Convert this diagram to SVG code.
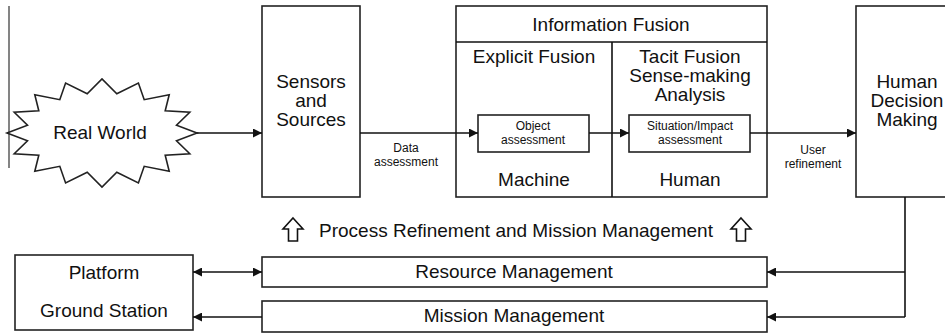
<svg xmlns="http://www.w3.org/2000/svg" width="945" height="333" viewBox="0 0 945 333">
<style>
text{font-family:"Liberation Sans",Arial,sans-serif;fill:#111;text-anchor:middle}
.b{font-size:19px}
.s{font-size:12px}
.box{fill:#fff;stroke:#222;stroke-width:1.6}
.ln{fill:none;stroke:#111;stroke-width:1.6}
</style>
<defs>
<marker id="ah" viewBox="0 0 10 10" refX="10" refY="5" markerWidth="10" markerHeight="9" markerUnits="userSpaceOnUse" orient="auto-start-reverse"><path d="M0,0 L10,5 L0,10 z" fill="#111"/></marker>
</defs>
<line x1="9" y1="6" x2="9" y2="168" stroke="#777" stroke-width="1.8"/>
<g id="real-world">
<polygon class="box" points="197,133 176.5,125.2 189.8,112.3 165.2,110.8 169.2,94.8 144.2,99.7 138.4,83.1 116.8,93.8 102,79 87.2,93.8 65.6,83.1 59.8,99.7 34.8,94.8 38.8,110.8 14.2,112.3 27.5,125.2 7,133 27.5,140.8 14.2,153.7 38.8,155.2 34.8,171.2 59.8,166.3 65.6,182.9 87.2,172.2 102,187 116.8,172.2 138.4,182.9 144.2,166.3 169.2,171.2 165.2,155.2 189.8,153.7 176.5,140.8"/>
<text class="b" x="100" y="139">Real World</text>
</g>
<g id="sensors">
<rect class="box" x="262" y="6" width="98" height="191"/>
<text class="b" x="311" y="88">Sensors</text>
<text class="b" x="311" y="107">and</text>
<text class="b" x="311" y="126">Sources</text>
</g>
<g id="information-fusion">
<rect class="box" x="456" y="6" width="311" height="191"/>
<line class="ln" x1="456" y1="42" x2="767" y2="42"/>
<line class="ln" x1="612" y1="42" x2="612" y2="197"/>
<text class="b" x="611" y="31">Information Fusion</text>
<text class="b" x="534" y="63">Explicit Fusion</text>
<text class="b" x="690" y="63">Tacit Fusion</text>
<text class="b" x="690" y="82">Sense-making</text>
<text class="b" x="690" y="101">Analysis</text>
<text class="b" x="534" y="186">Machine</text>
<text class="b" x="690" y="186">Human</text>
</g>
<g id="object-assessment">
<rect class="box" x="478" y="115" width="111" height="37"/>
<text class="s" x="533" y="130">Object</text>
<text class="s" x="533" y="144">assessment</text>
</g>
<g id="situation-assessment">
<rect class="box" x="629" y="115" width="121" height="37"/>
<text class="s" x="690" y="130">Situation/Impact</text>
<text class="s" x="690" y="144">assessment</text>
</g>
<g id="human-decision">
<rect class="box" x="856" y="6" width="110" height="191"/>
<text class="b" x="907" y="88">Human</text>
<text class="b" x="907" y="107">Decision</text>
<text class="b" x="907" y="126">Making</text>
</g>
<g id="platform">
<rect class="box" x="15" y="255" width="178" height="75"/>
<text class="b" x="104" y="279">Platform</text>
<text class="b" x="104" y="317">Ground Station</text>
</g>
<g id="resource-management">
<rect class="box" x="262" y="257" width="505" height="30"/>
<text class="b" x="514" y="278">Resource Management</text>
</g>
<g id="mission-management">
<rect class="box" x="262" y="301" width="505" height="31"/>
<text class="b" x="514" y="322">Mission Management</text>
</g>
<g id="process-refinement">
<text class="b" x="516" y="237">Process Refinement and Mission Management</text>
<path class="ln" d="M293,218 L303,229 L297.5,229 L297.5,241 L288.5,241 L288.5,229 L283,229 Z" stroke-width="1.4"/>
<path class="ln" d="M741,218 L751,229 L745.5,229 L745.5,241 L736.5,241 L736.5,229 L731,229 Z" stroke-width="1.4"/>
</g>
<g id="connectors">
<line class="ln" x1="197" y1="133" x2="262" y2="133" marker-end="url(#ah)"/>
<line class="ln" x1="360" y1="133" x2="478" y2="133" marker-end="url(#ah)"/>
<line class="ln" x1="589" y1="133" x2="629" y2="133" marker-end="url(#ah)"/>
<line class="ln" x1="750" y1="133" x2="856" y2="133" marker-end="url(#ah)"/>
<polyline class="ln" points="905,197 905,317"/>
<line class="ln" x1="905" y1="272" x2="767" y2="272" marker-end="url(#ah)"/>
<line class="ln" x1="905" y1="317" x2="767" y2="317" marker-end="url(#ah)"/>
<line class="ln" x1="193" y1="272" x2="262" y2="272" marker-start="url(#ah)" marker-end="url(#ah)"/>
<line class="ln" x1="262" y1="317" x2="193" y2="317" marker-end="url(#ah)"/>
<text class="s" x="406" y="152">Data</text>
<text class="s" x="406" y="166">assessment</text>
<text class="s" x="813" y="154">User</text>
<text class="s" x="813" y="168">refinement</text>
</g>
</svg>
